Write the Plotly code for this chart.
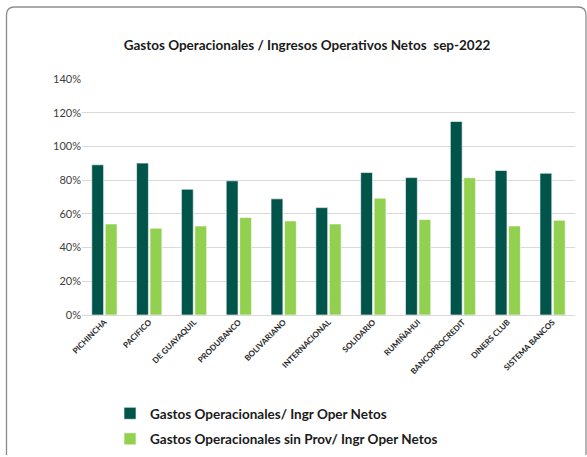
import plotly.graph_objects as go

categories = ["PICHINCHA", "PACIFICO", "DE GUAYAQUIL", "PRODUBANCO", "BOLIVARIANO",
              "INTERNACIONAL", "SOLIDARIO", "RUMIÑAHUI", "BANCOPROCREDIT", "DINERS CLUB",
              "SISTEMA BANCOS"]
gastos_ingr = [0.891, 0.901, 0.746, 0.796, 0.689, 0.637, 0.845, 0.815, 1.148, 0.857, 0.841]
gastos_sin_prov = [0.540, 0.515, 0.528, 0.578, 0.558, 0.540, 0.693, 0.566, 0.814, 0.528, 0.562]
series_names = ["Gastos Operacionales/ Ingr Oper Netos",
                "Gastos Operacionales sin Prov/ Ingr Oper Netos"]
title_text = "Gastos Operacionales / Ingresos Operativos Netos  sep-2022"

W, H = 587, 457
ML, MR, MT, MB = 82, 12, 79, 142
pw = W - ML - MR
ph = H - MT - MB

def px_x(x):
    return (x - ML) / pw

def px_y(y):
    return (H - MB - y) / ph

fig = go.Figure()
fig.add_trace(go.Bar(x=categories, y=gastos_ingr, name=series_names[0],
                     marker=dict(color="#00544A", line=dict(color="#FFFFFF", width=0.6)),
                     legendgroup="a"))
fig.add_trace(go.Bar(x=categories, y=gastos_sin_prov, name=series_names[1],
                     marker=dict(color="#92D050", line=dict(color="#FFFFFF", width=0.6)),
                     legendgroup="b"))

# rounded outer border (as separate segments)
bx0, by0, bx1, by1, rad = 6.5, 7.0, 586.0, 463.0, 8
border_color = "#8c8c8c"
shapes = [
    dict(type="line", xref="paper", yref="paper",
         x0=px_x(bx0 + rad), x1=px_x(bx1 - rad), y0=px_y(by0), y1=px_y(by0)),
    dict(type="line", xref="paper", yref="paper",
         x0=px_x(bx0), x1=px_x(bx0), y0=px_y(by0 + rad), y1=px_y(by1 - rad)),
    dict(type="line", xref="paper", yref="paper",
         x0=px_x(bx1), x1=px_x(bx1), y0=px_y(by0 + rad), y1=px_y(by1 - rad)),
    dict(type="path", xref="paper", yref="paper",
         path=(f"M {px_x(bx0)},{px_y(by0 + rad)} Q {px_x(bx0)},{px_y(by0)} "
               f"{px_x(bx0 + rad)},{px_y(by0)}")),
    dict(type="path", xref="paper", yref="paper",
         path=(f"M {px_x(bx1 - rad)},{px_y(by0)} Q {px_x(bx1)},{px_y(by0)} "
               f"{px_x(bx1)},{px_y(by0 + rad)}")),
]
for s in shapes:
    s["line"] = dict(color=border_color, width=1.3)
    s["layer"] = "above"

fig.update_layout(
    width=W, height=H,
    margin=dict(l=ML, r=MR, t=MT, b=MB, autoexpand=False),
    paper_bgcolor="white", plot_bgcolor="white",
    font=dict(family="Lato, Open Sans, sans-serif", color="#404040"),
    title=dict(text=title_text, x=307 / W, xanchor="center",
               y=1 - 45 / H, yanchor="middle",
               font=dict(size=13.5, color="#1a1a1a", family="Lato", weight="bold")),
    barmode="group", bargap=0.4, bargroupgap=0.12,
    showlegend=True,
    legend=dict(orientation="v", xref="container", yref="container",
                x=110 / W, y=1 - 398 / H, xanchor="left", yanchor="top",
                font=dict(size=13.5, color="#1a1a1a", family="Lato", weight="bold"),
                tracegroupgap=5, itemwidth=30, bgcolor="rgba(0,0,0,0)"),
    shapes=shapes,
)
fig.update_yaxes(range=[0, 1.4], dtick=0.2, tickformat=".0%", showgrid=True,
                 gridcolor="#D9D9D9", gridwidth=1, zeroline=True, zerolinecolor="#D9D9D9",
                 zerolinewidth=1, showline=False, ticks="", ticklen=0, automargin=False,
                 tickfont=dict(size=11, color="#404040", family="Lato"))
fig.update_xaxes(tickangle=-45, showline=False, ticks="", automargin=False,
                 tickfont=dict(size=8, color="#262626", family="Lato", weight="bold"))

fig.write_html("out.html", config={"displayModeBar": False},
               post_script="document.body.style.margin='0';")
